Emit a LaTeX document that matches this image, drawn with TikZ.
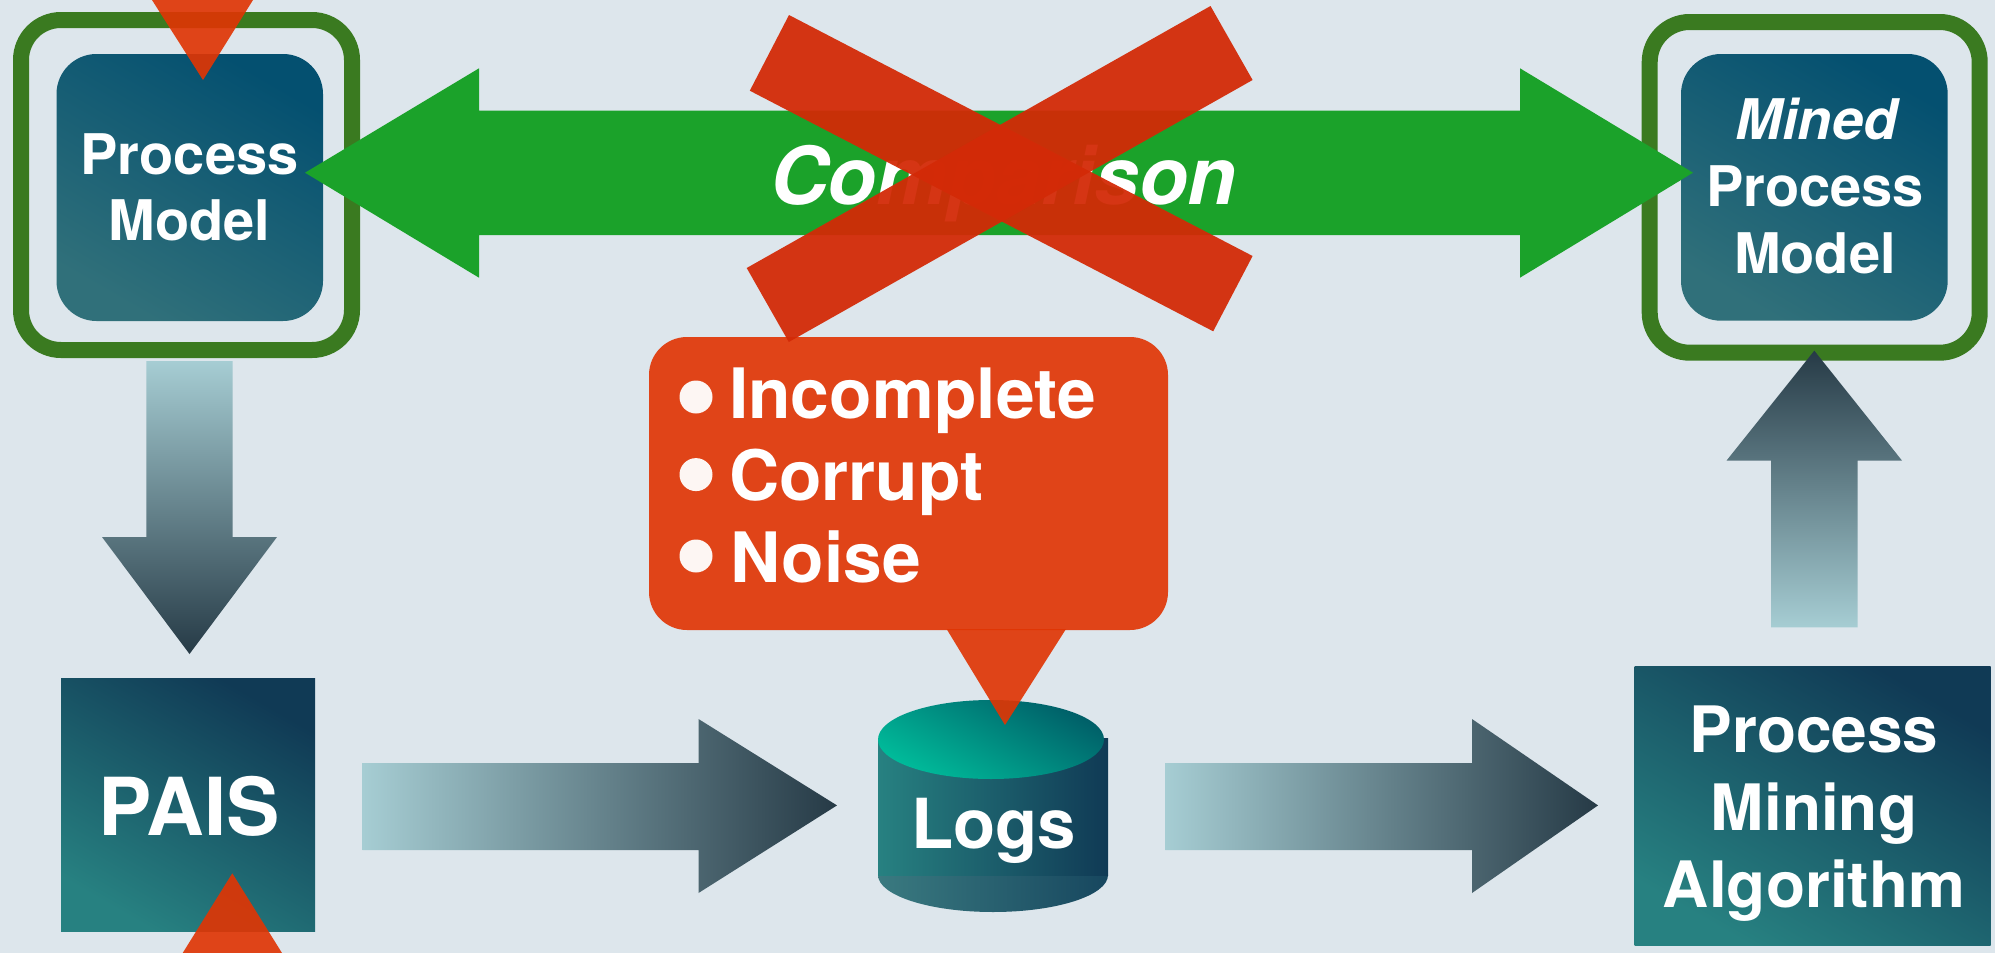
\documentclass[tikz,border=0pt]{standalone}
\usepackage{fontspec}
\setmainfont{TeX Gyre Heros}
\definecolor{bgc}{HTML}{DDE6EC}
\definecolor{frameg}{HTML}{3A7A20}
\definecolor{arrowg}{HTML}{1BA22A}
\definecolor{redt}{HTML}{E03504}
\definecolor{redc}{HTML}{D32A07}
\definecolor{orangec}{HTML}{E04418}
\definecolor{pale}{HTML}{A6CDD3}
\definecolor{darkb}{HTML}{263A46}
\definecolor{tealL}{HTML}{278181}
\definecolor{tealD}{HTML}{103A55}
\definecolor{blueL}{HTML}{30707A}
\definecolor{blueD}{HTML}{045070}
\definecolor{greenL}{HTML}{00BB9A}
\definecolor{greenD}{HTML}{005F68}
\definecolor{cylL}{HTML}{3A7A80}
\definecolor{cylD}{HTML}{17475F}
\tikzset{
  x=1pt,y=-1pt,
  lab/.style={inner sep=0pt,anchor=base,text=white,font=\fontsize{#1}{#1}\selectfont\bfseries},
  labi/.style={inner sep=0pt,anchor=base,text=white,font=\fontsize{#1}{#1}\selectfont\bfseries\itshape},
  lab/.default=56,
  labl/.style={inner sep=0pt,anchor=base west,text=white,font=\fontsize{69.5}{69.5}\selectfont\bfseries},
  frame/.style={draw=frameg,line width=16pt,rounded corners=40pt},
  pmbox/.style={bottom color=blueL,top color=blueD,shading angle=-30,rounded corners=40pt},
  sqbox/.style={bottom color=tealL,top color=tealD,shading angle=-30},
  flowd/.style={top color=pale,bottom color=darkb},
  flowu/.style={bottom color=pale,top color=darkb},
  flowr/.style={left color=pale,right color=darkb},
  tri/.style={fill=redt,fill opacity=.915},
  crossbar/.style={fill=redc,fill opacity=.945},
  dot/.style={circle,fill=white!95!orangec,inner sep=0pt,minimum size=33pt}
}
\begin{document}
\begin{tikzpicture}
\fill[bgc] (0,0) rectangle (1995,953);
\useasboundingbox (0,0) rectangle (1995,953);
% left model
\draw[frame] (21,20) rectangle (352,350);
\shade[pmbox] (56.5,54) rectangle (323,321);
\node[lab] (pm1) at (189.5,174) {Process};
\node[lab] (pm2) at (189.5,240.7) {Model};
% right model
\draw[frame] (1649.7,22) rectangle (1979.7,352.7);
\shade[pmbox] (1681,54) rectangle (1947.7,320.7);
\node[labi=56] (mm0) at (1816.5,139.3) {Mined};
\node[lab] (mm1) at (1815,206) {Process};
\node[lab] (mm2) at (1815,273.5) {Model};
% comparison arrow
\fill[arrowg] (305,172.7) -- (479,68.3) -- (479,110.7) -- (1520,110.7) -- (1520,68.3) -- (1693,172.7)
  -- (1520,277.7) -- (1520,235) -- (479,235) -- (479,277.7) -- cycle;
\node[labi=80] (cmp) at (1003.5,204) {Comparison};
% flow arrows
\shade[flowd] (146.3,361) -- (232.7,361) -- (232.7,537) -- (277,537) -- (189.5,654) -- (102,537) -- (146.3,537) -- cycle;
\shade[flowr] (362.6,763) -- (698.5,763) -- (698.5,719) -- (837,805.4) -- (698.5,893) -- (698.5,850) -- (362.6,850) -- cycle;
\shade[flowr] (1165.4,763) -- (1472,763) -- (1472,719) -- (1598,805.4) -- (1472,893) -- (1472,850) -- (1165.4,850) -- cycle;
\shade[flowu] (1771,627.3) -- (1857.5,627.3) -- (1857.5,460.6) -- (1902,460.6) -- (1814.3,350.7) -- (1726.5,460.6) -- (1771,460.6) -- cycle;
% PAIS
\shade[sqbox] (61,678) rectangle (315,931.7);
\node[lab=80] (pais) at (189,835.7) {PAIS};
% PMA
\shade[sqbox] (1634.7,666.7) rectangle (1990.7,945);
\node[lab=64] (pma1) at (1814,752.7) {Process};
\node[lab=64] (pma2) at (1814,830) {Mining};
\node[lab=64] (pma3) at (1814,907) {Algorithm};
% Logs
\shade[left color=cylL,right color=cylD] (878,875) arc[start angle=180,end angle=0,x radius=115,y radius=37] -- cycle;
\shade[left color=tealL,right color=tealD] (878,738) rectangle (1108,875);
\shade[bottom color=greenL,top color=greenD,shading angle=-30] (991,739.5) ellipse[x radius=113,y radius=39.5];
\node[lab=69] (logs) at (993.5,848.6) {Logs};
% callout
\fill[orangec,rounded corners=38pt] (649,337) rectangle (1168,630);
\node[dot] (d1) at (696,397) {};
\node[dot] (d2) at (696,474.6) {};
\node[dot] (d3) at (696,556) {};
\node[labl] (t1) at (729,418.6) {Incomplete};
\node[labl] (t2) at (729,500) {Corrupt};
\node[labl] (t3) at (730.5,582.7) {Noise};
% tails
\fill[tri] (946.6,629) -- (1066,629) -- (1005,725) -- cycle;
\fill[tri] (152,0) -- (253,0) -- (203,80) -- cycle;
\fill[tri] (182.7,953) -- (282,953) -- (232.3,873.3) -- cycle;
% cross
\fill[crossbar] (789,15) -- (749.8,90.7) -- (1213.2,331.3) -- (1252.6,256) -- cycle;
\fill[crossbar] (1210.5,6) -- (1252.6,80) -- (788.8,342) -- (746.7,268) -- cycle;
\end{tikzpicture}
\end{document}
